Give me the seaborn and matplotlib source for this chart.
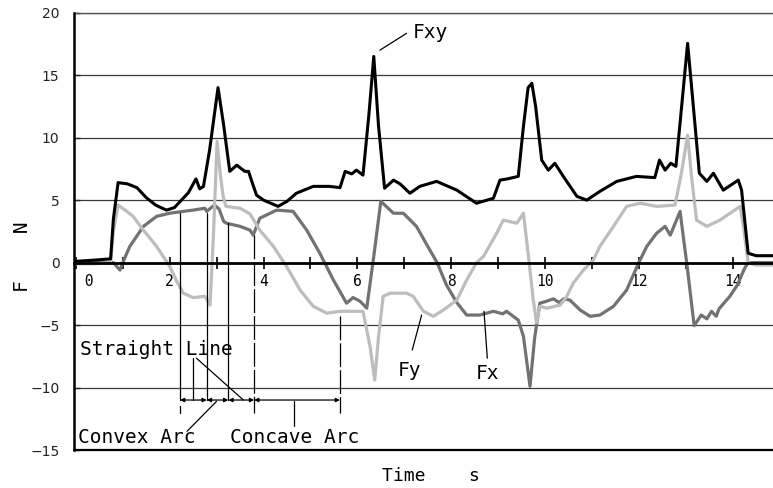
import matplotlib
matplotlib.use('Agg')
import matplotlib.pyplot as plt
import seaborn as sns
import pandas as pd

# === data (time in s, force in N) ===
fxy_t = [0, 0.4, 0.74, 0.8, 0.9, 1.1, 1.3, 1.5, 1.7, 1.93, 2.1, 2.25, 2.4, 2.56, 2.64, 2.72,
         2.85, 3.03, 3.15, 3.28, 3.43, 3.6, 3.68, 3.75, 3.85, 4.0, 4.31, 4.5, 4.7, 5.06, 5.4,
         5.63, 5.74, 5.88, 5.98, 6.12, 6.25, 6.35, 6.45, 6.58, 6.77, 6.91, 7.12, 7.33, 7.69,
         8.12, 8.54, 8.9, 9.04, 9.2, 9.43, 9.54, 9.64, 9.72, 9.8, 9.93, 10.07, 10.21, 10.39,
         10.68, 10.89, 11.17, 11.53, 11.95, 12.34, 12.44, 12.56, 12.68, 12.79, 12.9, 13.04,
         13.15, 13.29, 13.45, 13.59, 13.8, 14.0, 14.12, 14.19, 14.33, 14.5, 14.86]
fxy_v = [0.1, 0.2, 0.3, 3.5, 6.4, 6.3, 6.0, 5.2, 4.6, 4.2, 4.4, 5.0, 5.6, 6.7, 5.9, 6.1,
         9.0, 14.0, 11.0, 7.3, 7.8, 7.3, 7.3, 6.5, 5.4, 5.0, 4.5, 4.9, 5.55, 6.1, 6.1,
         6.0, 7.3, 7.1, 7.4, 7.0, 12.0, 16.5, 11.0, 5.95, 6.6, 6.3, 5.55, 6.1, 6.5,
         5.8, 4.75, 5.15, 6.6, 6.7, 6.9, 10.9, 14.0, 14.35, 12.5, 8.2, 7.4, 7.95, 6.9,
         5.3, 5.0, 5.7, 6.5, 6.9, 6.8, 8.2, 7.4, 7.95, 7.7, 12.0, 17.55,
         13.0, 7.15, 6.5, 7.15, 5.8, 6.3, 6.6, 5.8, 0.75, 0.55, 0.55]

fy_t = [0, 0.4, 0.74, 0.8, 0.9, 1.05, 1.22, 1.44, 1.72, 1.93, 2.0, 2.15, 2.29, 2.5, 2.75,
        2.86, 2.93, 3.01, 3.08, 3.14, 3.2, 3.5, 3.71, 3.92, 4.21, 4.49, 4.78, 5.06, 5.35,
        5.63, 5.91, 6.12, 6.27, 6.37, 6.45, 6.55, 6.7, 7.05, 7.19, 7.41, 7.62, 7.83, 8.12,
        8.33, 8.54, 8.69, 8.97, 9.11, 9.4, 9.54, 9.64, 9.75, 9.82, 9.89, 10.04, 10.32,
        10.45, 10.6, 10.82, 11.03, 11.17, 11.46, 11.74, 12.03, 12.38, 12.77, 12.9, 13.04,
        13.12, 13.23, 13.45, 13.73, 14.16, 14.23, 14.33, 14.5, 14.86]
fy_v = [-0.1, -0.1, 0.0, 2.5, 4.6, 4.2, 3.7, 2.6, 1.3, 0.1, -0.3, -1.5, -2.45, -2.8, -2.7,
        -3.4, 2.0, 9.7, 7.0, 5.3, 4.5, 4.35, 3.9, 2.6, 1.3, -0.3, -2.2, -3.5, -4.05,
        -3.9, -3.9, -3.9, -6.7, -9.4, -6.0, -2.7, -2.45, -2.45, -2.7, -3.9, -4.3, -3.8, -3.0,
        -1.4, 0.0, 0.5, 2.35, 3.4, 3.15, 3.95, 0.75, -3.0, -4.8, -3.5, -3.65, -3.4,
        -2.8, -1.65, -0.6, 0.2, 1.3, 2.9, 4.5, 4.75, 4.5, 4.6, 7.0, 10.2,
        7.0, 3.4, 2.9, 3.4, 4.5, 2.9, 0.0, -0.2, -0.2]

fx_t = [0, 0.4, 0.8, 0.94, 1.0, 1.15, 1.44, 1.72, 2.0, 2.29, 2.5, 2.75, 2.79, 2.95, 3.05,
        3.15, 3.21, 3.5, 3.71, 3.78, 3.92, 4.28, 4.63, 4.92, 5.2, 5.49, 5.77, 5.91, 6.06,
        6.2, 6.35, 6.5, 6.77, 6.98, 7.26, 7.5, 7.7, 7.9, 8.12, 8.33, 8.61, 8.9, 9.1, 9.18,
        9.43, 9.54, 9.68, 9.78, 9.89, 10.03, 10.18, 10.3, 10.4, 10.53, 10.75, 10.96, 11.17,
        11.46, 11.74, 12.0, 12.17, 12.38, 12.56, 12.67, 12.88, 12.95, 13.02, 13.18, 13.33,
        13.45, 13.55, 13.65, 13.71, 13.94, 14.1, 14.25, 14.33, 14.5, 14.86]
fx_v = [0.0, 0.0, 0.0, -0.6, 0.0, 1.3, 2.9, 3.7, 3.95, 4.1, 4.2, 4.35, 4.1, 4.6, 4.3,
        3.3, 3.15, 2.9, 2.6, 2.2, 3.55, 4.2, 4.1, 2.6, 0.75, -1.4, -3.25, -2.8, -3.1,
        -3.65, 0.5, 4.9, 3.95, 3.95, 2.9, 1.3, 0.0, -1.8, -3.2, -4.2, -4.2, -3.9, -4.1, -3.9,
        -4.6, -5.9, -9.9, -6.0, -3.25, -3.1, -2.9, -3.2, -2.9, -3.0, -3.8, -4.3, -4.2,
        -3.5, -2.2, 0.0, 1.3, 2.35, 2.9, 2.2, 4.1, 2.0, 0.0, -5.05, -4.2,
        -4.5, -3.9, -4.3, -3.7, -2.7, -1.8, -0.5, 0.0, 0.0, 0.0]

# section boundaries (Straight Line / Convex Arc / Straight Line / Concave Arc)
mark_t = [2.22, 2.79, 3.25, 3.80, 5.63]
mark_top = [3.95, 3.95, 3.2, 2.2, -4.3]
mark_dashed = [False, False, False, True, True]
arrow_v = -11.0

xtick_vals = list(range(0, 15))
xtick_text = [' 0' if i == 0 else (str(i) if i % 2 == 0 else '') for i in xtick_vals]
ytick_vals = [-15, -10, -5, 0, 5, 10, 15, 20]

mono = 'DejaVu Sans Mono'

sns.set_theme(style='white')
plt.rcParams['font.family'] = ['DejaVu Sans']

fig = plt.figure(figsize=(7.73, 4.88), dpi=100)
ax = fig.add_axes([74 / 773, 38 / 488, 699 / 773, 437.3 / 488])

# === curves ===
df_fx = pd.DataFrame({'t': fx_t, 'F': fx_v})
df_fy = pd.DataFrame({'t': fy_t, 'F': fy_v})
df_fxy = pd.DataFrame({'t': fxy_t, 'F': fxy_v})
sns.lineplot(data=df_fx, x='t', y='F', color='#727272', lw=2.3, estimator=None, sort=False, ax=ax)
sns.lineplot(data=df_fy, x='t', y='F', color='#bdbdbd', lw=2.3, estimator=None, sort=False, ax=ax)
sns.lineplot(data=df_fxy, x='t', y='F', color='black', lw=2.2, estimator=None, sort=False, ax=ax)

# === axes look ===
ax.set_xlim(-0.04, 14.86)
ax.set_ylim(-15, 20)
ax.set_xlabel('')
ax.set_ylabel('')
ax.set_yticks(ytick_vals)
ax.set_xticks(xtick_vals)
ax.set_xticklabels(xtick_text)
ax.set_axisbelow(True)
ax.grid(axis='y', color='#3a3a3a', lw=0.9)
ax.grid(axis='x', visible=False)

ax.spines['top'].set_visible(False)
ax.spines['right'].set_visible(False)
ax.spines['bottom'].set_position(('data', 0))
ax.spines['bottom'].set_linewidth(2.0)
ax.spines['bottom'].set_color('black')
ax.spines['left'].set_linewidth(1.8)
ax.spines['left'].set_color('black')
ax.axhline(-15, color='black', lw=1.6, clip_on=False)
ax.axhline(20, color='#555555', lw=1.0, clip_on=False)

ax.tick_params(axis='x', direction='inout', length=9, width=1.2, pad=4,
               labelsize=10.5, colors='black', bottom=True)
ax.tick_params(axis='y', direction='in', length=4, width=1, pad=10.5,
               labelsize=10, labelcolor='#222222', left=True)
for lab in ax.get_xticklabels():
    lab.set_fontfamily(mono)
ax.get_xticklabels()[0].set_horizontalalignment('left')

# === section markers and arrows ===
for t, top, dashed in zip(mark_t, mark_top, mark_dashed):
    if dashed:
        ax.plot([t, t], [top, -12.05], color='black', lw=0.9, dashes=(19, 2.5))
    else:
        ax.plot([t, t], [top, arrow_v], color='black', lw=0.9)
ax.plot([mark_t[0], mark_t[0]], [-11.5, -12.05], color='black', lw=0.9)

for a, b in zip(mark_t[:-1], mark_t[1:]):
    ax.annotate('', xy=(a, arrow_v), xytext=(b, arrow_v),
                arrowprops=dict(arrowstyle='<|-|>', color='black', lw=0.9,
                                mutation_scale=6, shrinkA=0, shrinkB=0))

# === labels and pointers ===
txt = dict(family=mono, fontsize=14, color='black')
ax.text(0.085, -7.38, 'Straight Line', ha='left', va='baseline', **txt)
ax.plot([2.50, 2.50], [-7.65, -11.0], color='black', lw=0.9)
ax.plot([2.57, 3.57], [-7.65, -11.0], color='black', lw=0.9)

ax.text(0.04, -14.45, 'Convex Arc', ha='left', va='baseline', **txt)
ax.plot([2.37, 3.0], [-13.5, -11.1], color='black', lw=0.9)

ax.text(3.28, -14.45, 'Concave Arc', ha='left', va='baseline', **txt)
ax.plot([4.65, 4.65], [-11.1, -13.1], color='black', lw=0.9)

ax.text(7.12, -9.1, 'Fy', ha='center', va='baseline', **txt)
ax.plot([7.17, 7.37], [-7.0, -4.2], color='black', lw=0.9)

ax.text(8.77, -9.3, 'Fx', ha='center', va='baseline', **txt)
ax.plot([8.77, 8.70], [-7.65, -3.9], color='black', lw=0.9)

ax.text(7.55, 17.95, 'Fxy', ha='center', va='baseline', **txt)
ax.plot([7.05, 6.48], [18.35, 17.0], color='black', lw=0.9)

fig.text(22 / 773, 1 - 257 / 488, 'F    N', rotation=90, ha='center', va='center',
         family=mono, fontsize=14, color='black')
fig.text(431 / 773, 12 / 488, 'Time    s', ha='center', va='center',
         family=mono, fontsize=13, color='black')

fig.savefig('out.png', dpi=100)
